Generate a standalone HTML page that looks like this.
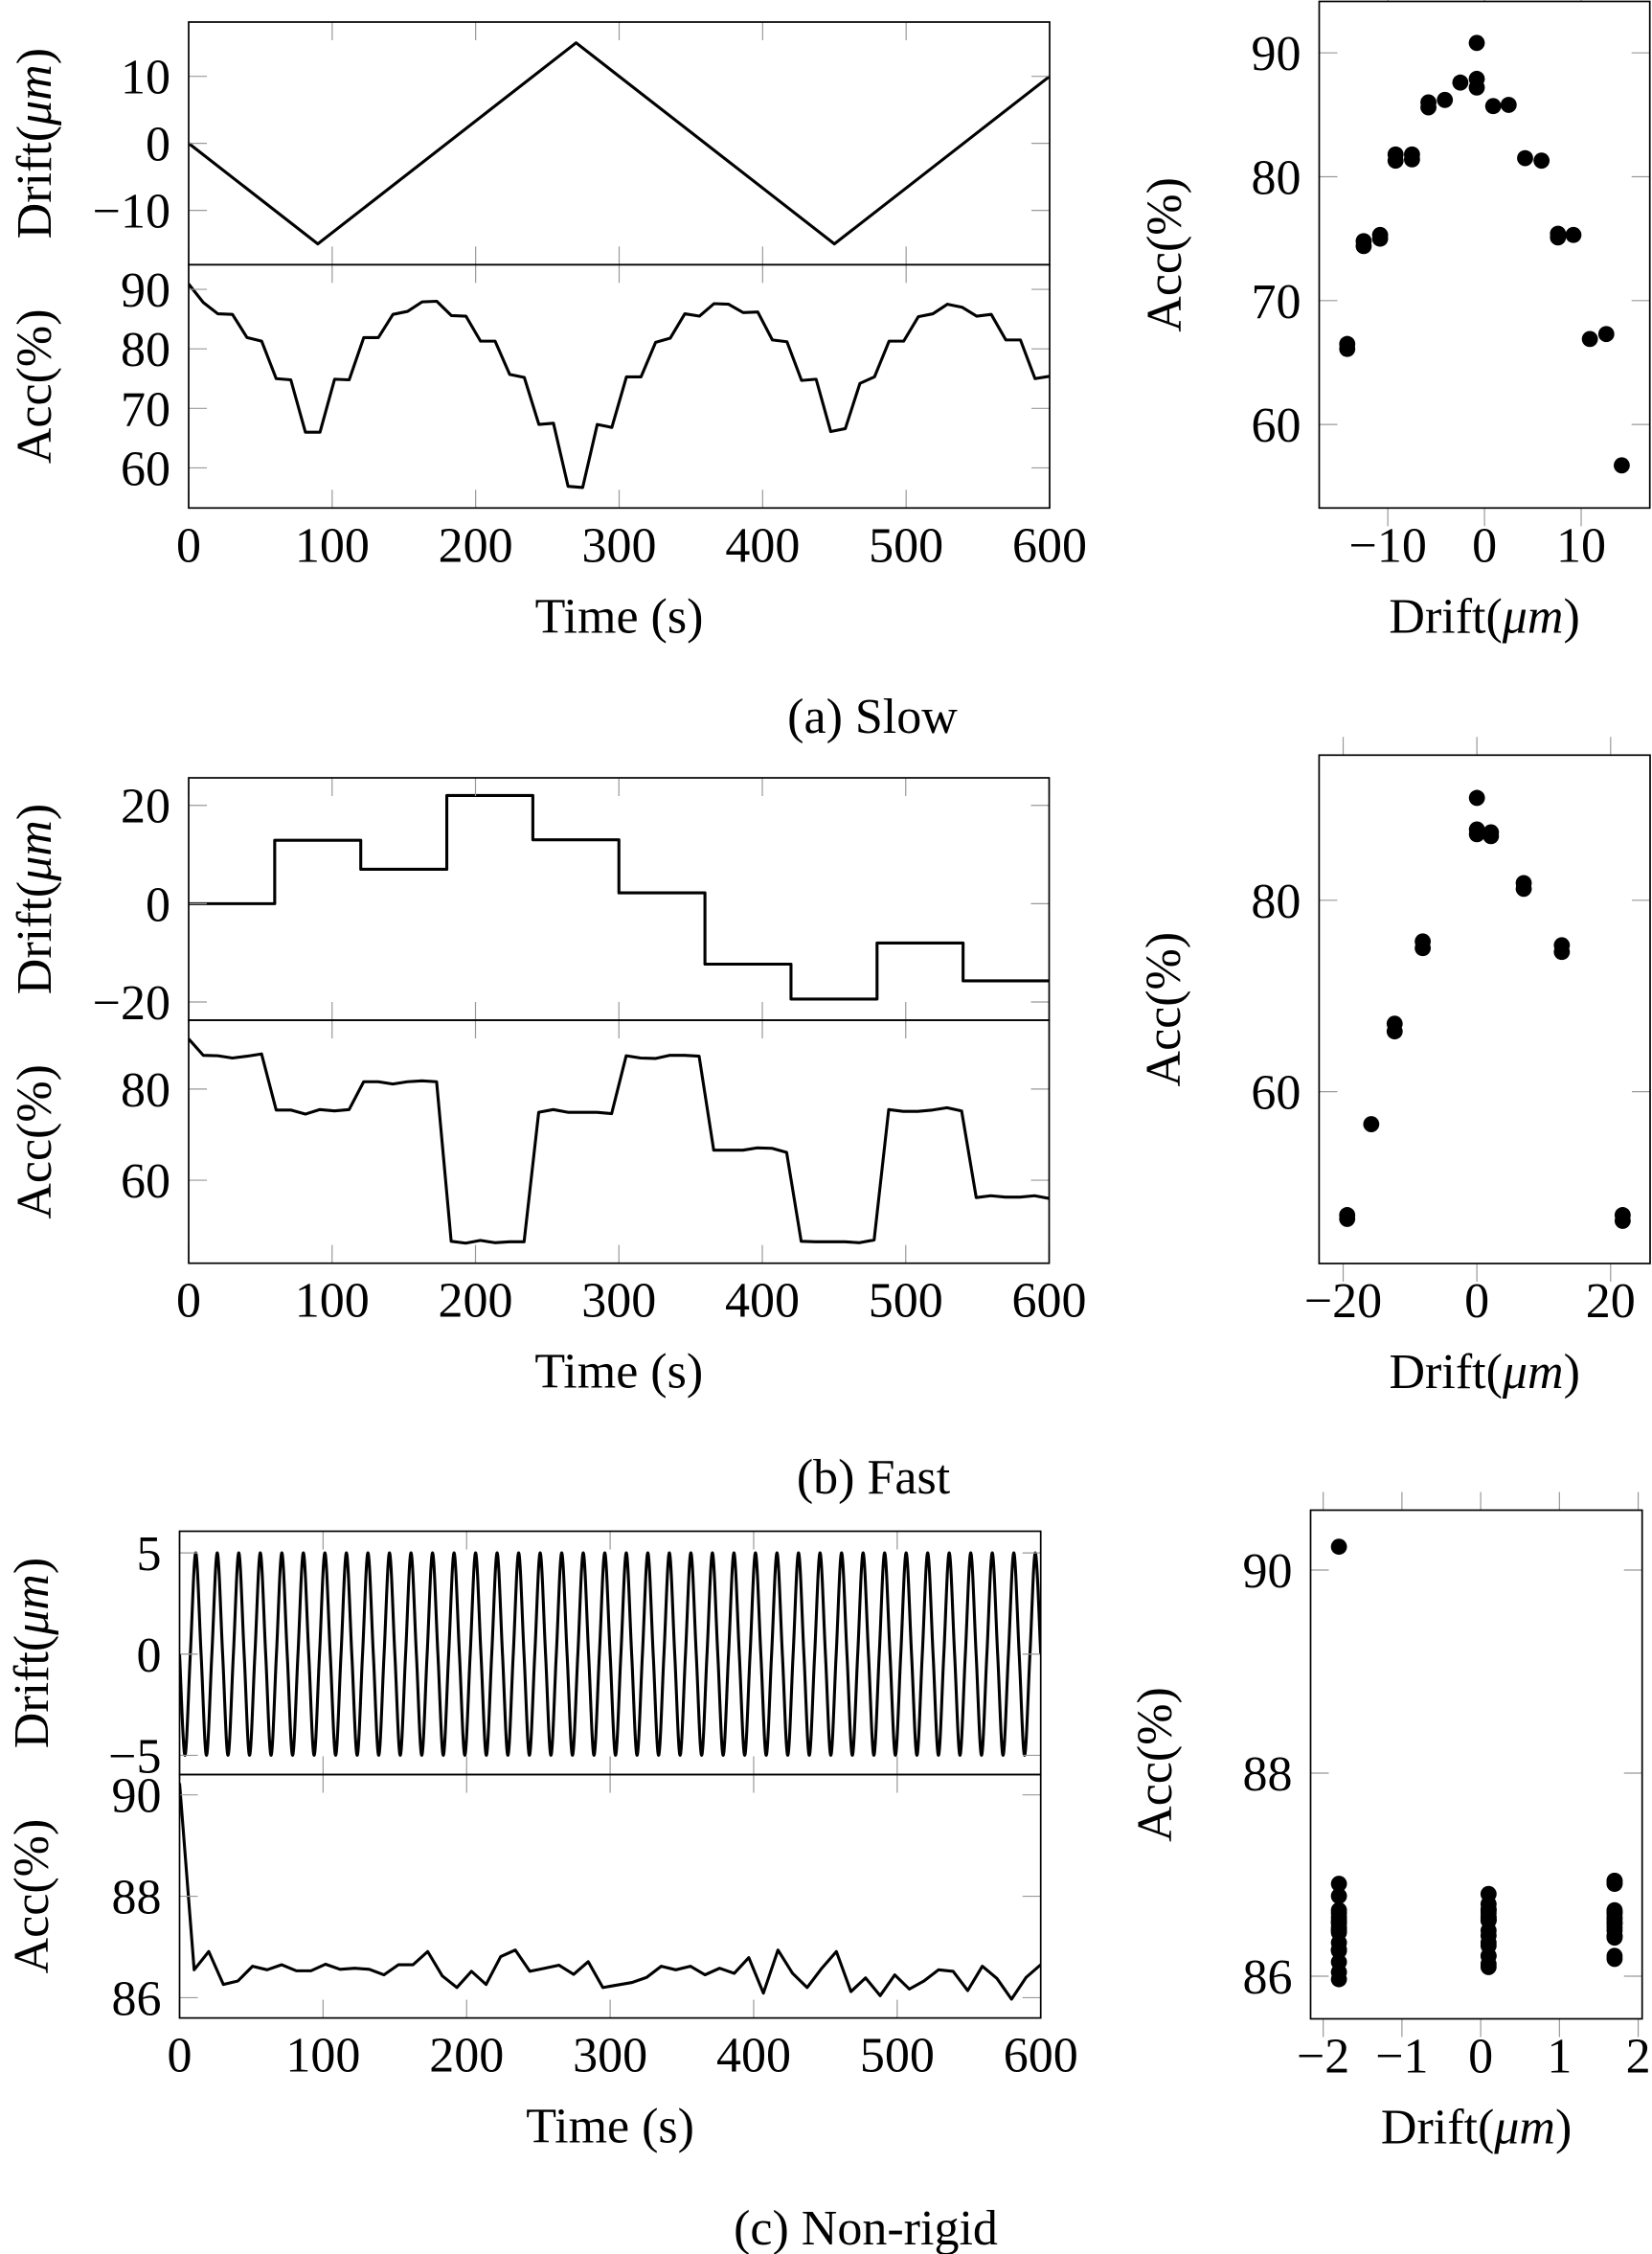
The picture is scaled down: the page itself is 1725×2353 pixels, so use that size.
<!DOCTYPE html>
<html><head><meta charset="utf-8"><title>Drift vs accuracy</title>
<style>
html,body{margin:0;padding:0;background:#fff;}
svg{display:block;font-family:"Liberation Serif","DejaVu Serif",serif;}
</style></head>
<body>
<svg id="fig" xmlns="http://www.w3.org/2000/svg" width="1725" height="2353" viewBox="0 0 1725 2353">
<rect x="0" y="0" width="1725" height="2353" fill="#fff"/>
</svg>
<script>
// ---------- data ----------
const driftATimes = [0, 90, 270, 450, 600];
const driftAValues = [0, -15, 15, -15, 10];
const accAValues = [90.9,87.8,85.9,85.8,81.9,81.3,75.0,74.8,66.0,66.0,74.9,74.8,81.9,81.9,85.8,86.3,87.9,88.0,85.6,85.5,81.3,81.3,75.7,75.2,67.3,67.5,56.9,56.7,67.3,66.8,
75.3,75.3,81.1,81.8,85.9,85.5,87.6,87.5,86.1,86.2,81.5,81.2,74.7,74.9,66.1,66.6,74.2,75.3,81.3,81.3,85.4,85.9,87.5,87.0,85.5,85.8,81.5,81.5,75.0,75.4];
const scatterADrift = [-14.2,-14.2,-12.5,-12.5,-10.8,-10.8,-9.2,-9.2,-7.5,-7.5,-5.8,-5.8,-4.1,-2.5,-0.8,-0.8,-0.8,0.9,2.5,4.2,5.9,7.6,7.6,9.2,10.9,12.6,14.2];
const scatterAAcc = [66.5,66.1,74.4,74.8,75.0,75.3,81.3,81.8,81.4,81.8,86.0,85.6,86.2,87.6,87.9,87.2,90.8,85.7,85.8,81.5,81.3,75.1,75.4,75.3,66.9,67.3,56.7];

const driftBTimes = [0,60,120,180,240,300,360,420,480,540,600];
const driftBLevels = [0,12.9,7.0,22.0,13.0,2.2,-12.3,-19.4,-8.0,-15.7];
const accBValues = [91.0,87.4,87.3,86.8,87.2,87.7,75.4,75.4,74.5,75.5,75.2,75.5,81.6,81.6,81.1,81.6,81.8,81.6,46.6,46.2,46.8,46.3,46.5,46.5,74.9,75.5,74.9,74.9,74.9,74.6,
87.3,86.8,86.7,87.4,87.4,87.2,66.6,66.6,66.6,67.1,67.0,66.1,46.6,46.5,46.5,46.5,46.3,46.9,75.5,75.1,75.1,75.4,75.9,75.2,56.2,56.6,56.3,56.3,56.6,56.0];
const scatterBDrift = [0,0,0,2.1,2.1,7.0,7.0,-8.1,-8.1,12.7,12.7,-12.3,-12.3,-15.8,-19.4,-19.4,21.8,21.8];
const scatterBAcc = [90.7,87.4,86.9,87.1,86.7,81.8,81.2,75.7,75.0,75.3,74.6,67.1,66.3,56.6,47.1,46.7,47.1,46.5];

const driftCStep = 3.75;
const driftCValues = [0,-5,0,5,0,-5,0,5,0,-5,0,5,0,-5,0,5,0,-5,0,5,0,-5,0,5,0,-5,0,5,0,-5,0,5,0,-5,0,5,0,-5,0,5,
0,-5,0,5,0,-5,0,5,0,-5,0,5,0,-5,0,5,0,-5,0,5,0,-5,0,5,0,-5,0,5,0,-5,0,5,0,-5,0,5,0,-5,0,5,
0,-5,0,5,0,-5,0,5,0,-5,0,5,0,-5,0,5,0,-5,0,5,0,-5,0,5,0,-5,0,5,0,-5,0,5,0,-5,0,5,0,-5,0,5,
0,-5,0,5,0,-5,0,5,0,-5,0,5,0,-5,0,5,0,-5,0,5,0,-5,0,5,0,-5,0,5,0,-5,0,5,0,-5,0,5,0,-5,0,5,0];
const accCValues = [90.23,86.55,86.91,86.26,86.33,86.62,86.55,86.65,86.53,86.53,86.66,86.56,86.58,86.56,86.45,86.65,86.65,86.91,86.43,86.20,
86.52,86.26,86.81,86.94,86.52,86.58,86.64,86.46,86.71,86.20,86.25,86.30,86.40,86.62,86.55,86.62,86.45,86.58,86.48,86.79,
86.09,86.94,86.48,86.20,86.58,86.91,86.12,86.39,86.04,86.45,86.17,86.33,86.55,86.52,86.14,86.62,86.38,85.97,86.40,86.65];
const scatterCDriftCycle = [-1.8, 0.1, 1.7];

const timeTicks = [0,100,200,300,400,500,600];
const tickA_drift = [-10,0,10], tickA_acc = [60,70,80,90];
const tickB_drift = [-20,0,20], tickB_acc = [60,80];
const tickC_drift = [-5,0,5], tickC_acc = [86,88,90];
const tickSA_x = [-10,0,10], tickSB_x = [-20,0,20], tickSC_x = [-2,-1,0,1,2];

// ---------- helpers ----------
const NS = "http://www.w3.org/2000/svg";
const svg = document.getElementById('fig');
const FS = 52;
const LW = 3.1;
function mk(tag, attrs, parent){ const e=document.createElementNS(NS,tag); for(const k in attrs) e.setAttribute(k,attrs[k]); (parent||svg).appendChild(e); return e; }
function scale(d0,d1,p0,p1){ return v => p0 + (v-d0)/(d1-d0)*(p1-p0); }
function fmt(v){ return v<0 ? '\u2212'+Math.abs(v) : String(v); }
function grp(name){ const g=mk('g',{});   return g; }

function box(g,x0,x1,y0,y1,name){
  const r=mk('rect',{x:x0,y:y0,width:x1-x0,height:y1-y0,fill:'none',stroke:'#000','stroke-width':1.7},g);
  
  
}
function xticks(g,sx,ticks,y0,y1,labels,labelY){
  ticks.forEach(t=>{
    const x=sx(t);
    mk('line',{x1:x,x2:x,y1:y0,y2:y0+19,stroke:'#999','stroke-width':1.2},g);
    mk('line',{x1:x,x2:x,y1:y1,y2:y1-19,stroke:'#999','stroke-width':1.2},g);
    if(labels){
      const tx=mk('text',{x:x,y:labelY,'font-size':FS,'text-anchor':'middle',fill:'#000'},g);
      tx.textContent=fmt(t);
      
      
    }
  });
}
function yticks(g,sy,ticks,x0,x1){
  ticks.forEach(t=>{
    const y=sy(t);
    mk('line',{x1:x0,x2:x0+19,y1:y,y2:y,stroke:'#999','stroke-width':1.2},g);
    mk('line',{x1:x1,x2:x1-19,y1:y,y2:y,stroke:'#999','stroke-width':1.2},g);
    const tx=mk('text',{x:x0-19,y:y+18,'font-size':FS,'text-anchor':'end',fill:'#000'},g);
    tx.textContent=fmt(t);
    
    
  });
}
function ytitle(g,xBase,yc,label,name){
  const t=mk('text',{x:0,y:0,'font-size':FS,'text-anchor':'middle',transform:`translate(${xBase},${yc}) rotate(-90)`,fill:'#000'},g);
  if(label==='drift'){ t.appendChild(document.createTextNode('Drift(')); const s=mk('tspan',{'font-style':'italic'},t); s.textContent='\u03bcm'; t.appendChild(document.createTextNode(')')); }
  else t.textContent=label;
  
  
}
function xtitle(g,xc,y,label,name){
  const t=mk('text',{x:xc,y:y,'font-size':FS,'text-anchor':'middle',fill:'#000'},g);
  if(label==='drift'){ t.appendChild(document.createTextNode('Drift(')); const s=mk('tspan',{'font-style':'italic'},t); s.textContent='\u03bcm'; t.appendChild(document.createTextNode(')')); }
  else t.textContent=label;
  
  
}
function polyline(g,pts,name){
  const p=mk('polyline',{points:pts.map(p=>p[0].toFixed(2)+','+p[1].toFixed(2)).join(' '),fill:'none',stroke:'#000','stroke-width':LW,'stroke-linejoin':'round'},g);
  
  
}
function smoothPath(g,pts,name){
  let d='M'+pts[0][0].toFixed(2)+','+pts[0][1].toFixed(2);
  for(let i=0;i<pts.length-1;i++){
    const p0=pts[Math.max(0,i-1)],p1=pts[i],p2=pts[i+1],p3=pts[Math.min(pts.length-1,i+2)];
    const c1=[p1[0]+(p2[0]-p0[0])/6, p1[1]+(p2[1]-p0[1])/6];
    const c2=[p2[0]-(p3[0]-p1[0])/6, p2[1]-(p3[1]-p1[1])/6];
    d+=` C${c1[0].toFixed(2)},${c1[1].toFixed(2)} ${c2[0].toFixed(2)},${c2[1].toFixed(2)} ${p2[0].toFixed(2)},${p2[1].toFixed(2)}`;
  }
  const p=mk('path',{d:d,fill:'none',stroke:'#000','stroke-width':LW},g);
  
  
}
function dots(g,sx,sy,xs,ys,name){
  xs.forEach((v,i)=>{
    const c=mk('circle',{cx:sx(v),cy:sy(ys[i]),r:8.4,fill:'#000'},g);
    
    
  });
}
function caption(x,y,text,name){
  const t=mk('text',{x:x,y:y,'font-size':FS,'text-anchor':'middle',fill:'#000'});
  t.textContent=text;
  
  
}
const accTimes = accAValues.map((_,i)=> i*600/(accAValues.length-1));

// ---------- panels ----------
function timePanel(cfg){
  const g=grp(cfg.name);
  const sx=scale(0,600,cfg.x0,cfg.x1);
  const syD=scale(cfg.dDom[0],cfg.dDom[1],cfg.ySep,cfg.yTop);
  const syA=scale(cfg.aDom[0],cfg.aDom[1],cfg.yBot,cfg.ySep);
  const cid='clip-'+cfg.name;
  const cp=mk('clipPath',{id:cid},g); mk('rect',{x:cfg.x0,y:cfg.yTop,width:cfg.x1-cfg.x0,height:cfg.yBot-cfg.yTop},cp);
  const lg=mk('g',{'clip-path':`url(#${cid})`},g);
  cfg.drawDrift(lg,sx,syD);
  cfg.drawAcc(lg,sx,syA);
  xticks(g,sx,timeTicks,cfg.yTop,cfg.ySep,false);
  xticks(g,sx,timeTicks,cfg.ySep,cfg.yBot,true,cfg.yBot+56);
  yticks(g,syD,cfg.dTicks,cfg.x0,cfg.x1);
  yticks(g,syA,cfg.aTicks,cfg.x0,cfg.x1);
  box(g,cfg.x0,cfg.x1,cfg.yTop,cfg.ySep,'drift-plot-frame');
  box(g,cfg.x0,cfg.x1,cfg.ySep,cfg.yBot,'acc-plot-frame');
  ytitle(g,cfg.titleX,(cfg.yTop+cfg.ySep)/2,'drift','drift-y-axis-title');
  ytitle(g,cfg.titleX,(cfg.ySep+cfg.yBot)/2,'Acc(%)','acc-y-axis-title');
  xtitle(g,(cfg.x0+cfg.x1)/2,cfg.yBot+130,'Time (s)','time-x-axis-title');
}
function scatterPanel(cfg){
  const g=grp(cfg.name);
  const sx=scale(cfg.xDom[0],cfg.xDom[1],cfg.x0,cfg.x1);
  const sy=scale(cfg.yDom[0],cfg.yDom[1],cfg.y1,cfg.y0);
  xticks(g,sx,cfg.xTicks,cfg.y1,cfg.y0,true,cfg.y1+56);
  yticks(g,sy,cfg.yTicks,cfg.x0,cfg.x1);
  dots(g,sx,sy,cfg.xs,cfg.ys,'scatter-point');
  box(g,cfg.x0,cfg.x1,cfg.y0,cfg.y1,'scatter-frame');
  ytitle(g,cfg.titleX,(cfg.y0+cfg.y1)/2,'Acc(%)','scatter-y-axis-title');
  xtitle(g,(cfg.x0+cfg.x1)/2,cfg.y1+130,'drift','scatter-x-axis-title');
}

// (a) Slow
timePanel({name:'slow-time-series',x0:197,x1:1096,yTop:23,ySep:276.3,yBot:530.3,dDom:[-18.1,18.1],aDom:[53.26,94.15],dTicks:tickA_drift,aTicks:tickA_acc,titleX:53,
  drawDrift:(g,sx,sy)=>polyline(g,driftATimes.map((t,i)=>[sx(t),sy(driftAValues[i])]),'slow-drift-line'),
  drawAcc:(g,sx,sy)=>polyline(g,accAValues.map((v,i)=>[sx(accTimes[i]),sy(v)]),'slow-acc-line')});
scatterPanel({name:'slow-scatter',x0:1377.5,x1:1722.7,y0:1.5,y1:530.3,xDom:[-17.1,17.1],yDom:[53.26,94.15],xTicks:tickSA_x,yTicks:tickA_acc,titleX:1233,xs:scatterADrift,ys:scatterAAcc});
caption(911,765,'(a) Slow','caption-slow');

// (b) Fast
timePanel({name:'fast-time-series',x0:197,x1:1095.5,yTop:812,ySep:1065,yBot:1318.7,dDom:[-23.7,25.6],aDom:[41.8,95.1],dTicks:tickB_drift,aTicks:tickB_acc,titleX:53,
  drawDrift:(g,sx,sy)=>{ const pts=[]; driftBLevels.forEach((v,i)=>{pts.push([sx(driftBTimes[i]),sy(v)]);pts.push([sx(driftBTimes[i+1]),sy(v)]);}); polyline(g,pts,'fast-drift-line'); },
  drawAcc:(g,sx,sy)=>polyline(g,accBValues.map((v,i)=>[sx(accTimes[i]),sy(v)]),'fast-acc-line')});
scatterPanel({name:'fast-scatter',x0:1377.4,x1:1723,y0:788.3,y1:1319,xDom:[-23.6,25.9],yDom:[42.04,95.17],xTicks:tickSB_x,yTicks:tickB_acc,titleX:1232,xs:scatterBDrift,ys:scatterBAcc});
caption(912,1559,'(b) Fast','caption-fast');

// (c) Non-rigid
timePanel({name:'nonrigid-time-series',x0:187.5,x1:1086.7,yTop:1598.5,ySep:1852.5,yBot:2106.6,dDom:[-5.95,6.07],aDom:[85.6,90.4],dTicks:tickC_drift,aTicks:tickC_acc,titleX:50,
  drawDrift:(g,sx,sy)=>smoothPath(g,driftCValues.map((v,i)=>[sx(i*driftCStep),sy(v)]),'nonrigid-drift-line'),
  drawAcc:(g,sx,sy)=>polyline(g,accCValues.map((v,i)=>[sx(accTimes[i]),sy(v)]),'nonrigid-acc-line')});
scatterPanel({name:'nonrigid-scatter',x0:1368.5,x1:1714.7,y0:1576.5,y1:2107.5,xDom:[-2.16,2.05],yDom:[85.58,90.59],xTicks:tickSC_x,yTicks:tickC_acc,titleX:1223,
  xs:accCValues.map((_,i)=>scatterCDriftCycle[i%3]),ys:accCValues});
caption(904,2343,'(c) Non-rigid','caption-nonrigid');
</script>
</body></html>
